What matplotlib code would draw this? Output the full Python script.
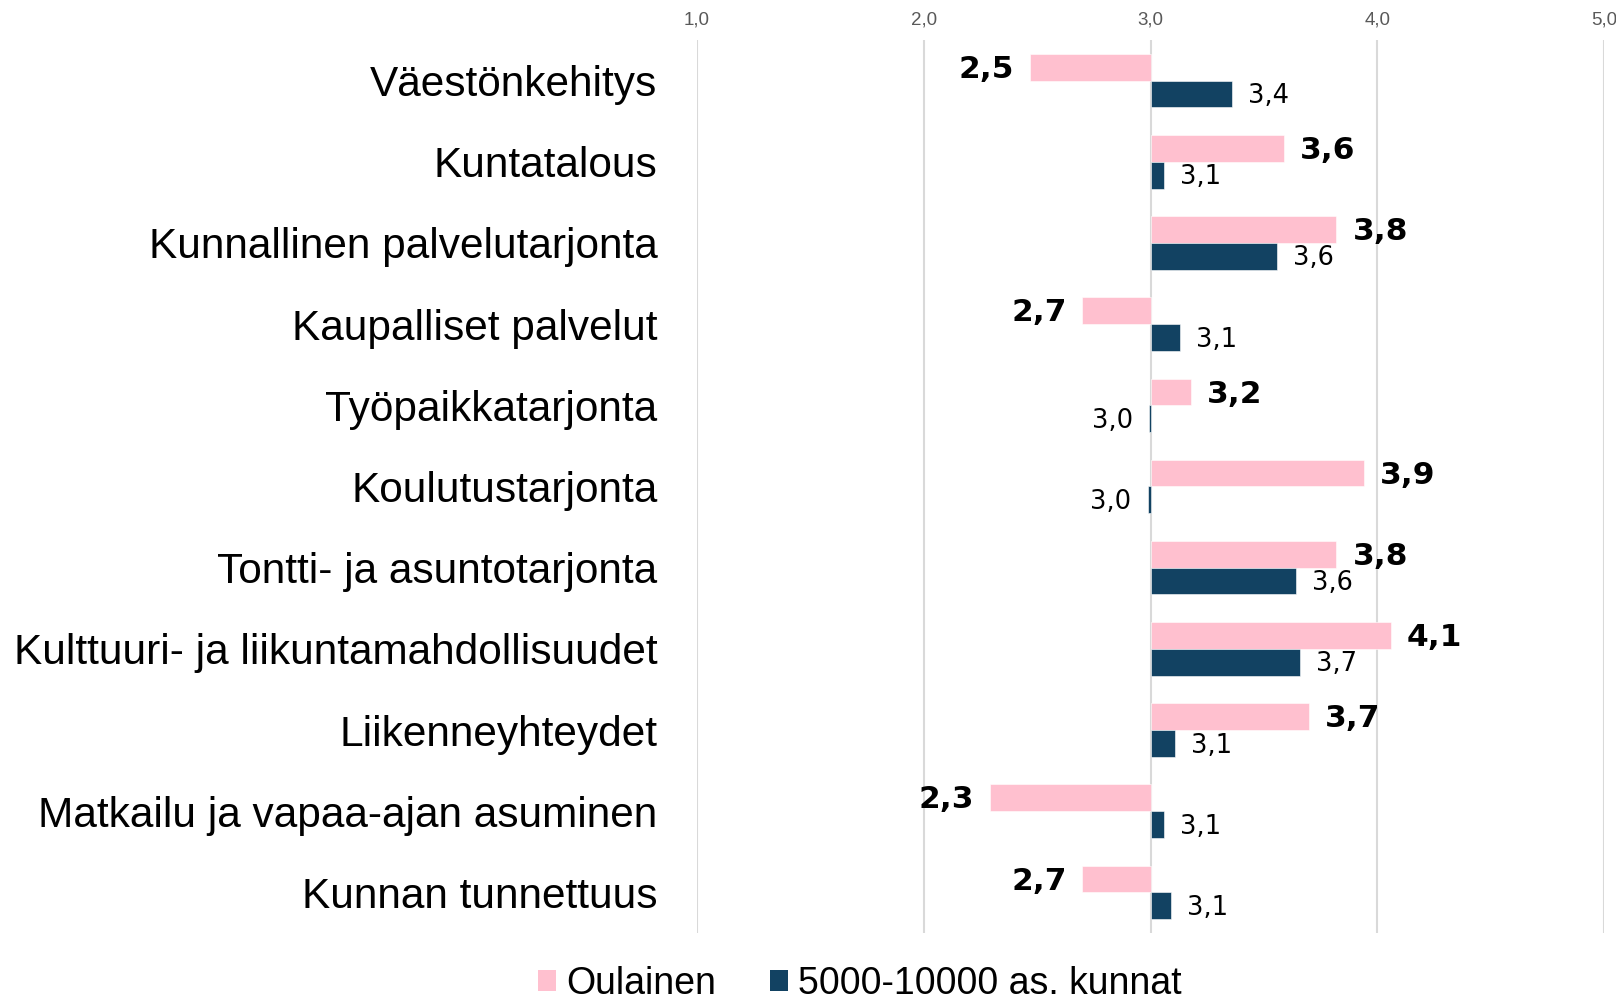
import matplotlib
matplotlib.use("Agg")
import matplotlib.pyplot as plt
from matplotlib.patches import Patch
import numpy as np

categories = [
    "Väestönkehitys",
    "Kuntatalous",
    "Kunnallinen palvelutarjonta",
    "Kaupalliset palvelut",
    "Työpaikkatarjonta",
    "Koulutustarjonta",
    "Tontti- ja asuntotarjonta",
    "Kulttuuri- ja liikuntamahdollisuudet",
    "Liikenneyhteydet",
    "Matkailu ja vapaa-ajan asuminen",
    "Kunnan tunnettuus",
]
oulainen = [2.47, 3.59, 3.82, 2.70, 3.18, 3.94, 3.82, 4.06, 3.70, 2.29, 2.70]
kunnat = [3.36, 3.06, 3.56, 3.13, 2.993, 2.987, 3.64, 3.66, 3.11, 3.06, 3.09]
series_names = ["Oulainen", "5000-10000 as. kunnat"]
xticks = [1.0, 2.0, 3.0, 4.0, 5.0]
base = 3.0

PINK = "#FFC0CF"
BLUE = "#124262"

W, H = 1616, 997
fig = plt.figure(figsize=(W / 100, H / 100), dpi=100)
ax = fig.add_axes([697 / W, 1 - 933 / H, 907 / W, 893 / H])

y = np.arange(len(categories))
h = 0.33
ax.barh(y - h / 2, np.array(oulainen) - base, left=base, height=h,
        color=PINK, edgecolor="white", linewidth=0.4, zorder=3)
ax.barh(y + h / 2, np.array(kunnat) - base, left=base, height=h,
        color=BLUE, edgecolor="white", linewidth=0.4, zorder=3)

def fmt(v):
    return f"{v:.1f}".replace(".", ",")

for i, v in enumerate(oulainen):
    right = v >= base
    ax.annotate(fmt(v), (v, i - h / 2), xytext=(11.5 if right else -11.5, -1.5),
                textcoords="offset points", ha="left" if right else "right",
                va="center", fontsize=22.5, fontweight="bold",
                family="DejaVu Sans", color="black")
for i, v in enumerate(kunnat):
    right = v >= base
    ax.annotate(fmt(v), (v, i + h / 2), xytext=(11.5 if right else -11.5, -1.5),
                textcoords="offset points", ha="left" if right else "right",
                va="center", fontsize=18.5, family="DejaVu Sans", color="black")

ax.set_xlim(1.0, 5.0)
ax.set_ylim(len(categories) - 0.5, -0.5)
ax.xaxis.tick_top()
ax.set_xticks(xticks)
ax.set_xticklabels([fmt(t) for t in xticks], fontsize=13.5,
                   family=["Liberation Sans Narrow", "Liberation Sans"],
                   color="#595959")
ax.tick_params(axis="x", length=0, pad=8)
ax.set_yticks(y)
ax.set_yticklabels(categories, fontsize=30.5, family="Liberation Sans")
ax.tick_params(axis="y", length=0, pad=28.5)
for lbl in ax.get_yticklabels():
    lbl.set_y(lbl.get_position()[1])
ax.grid(axis="x", color="#D9D9D9", linewidth=1.5, zorder=0)
ax.set_axisbelow(True)
for s in ax.spines.values():
    s.set_visible(False)

handles = [Patch(facecolor=PINK, edgecolor="none"),
           Patch(facecolor=BLUE, edgecolor="none")]
fig.legend(handles, series_names, loc="center", bbox_to_anchor=(860 / W, 1 - 984 / H),
           ncol=2, frameon=False, prop={"family": "Liberation Sans", "size": 27},
           handlelength=0.47, handleheight=0.47, handletextpad=0.27,
           columnspacing=1.45, borderpad=0)

fig.savefig("out.png", dpi=100)
